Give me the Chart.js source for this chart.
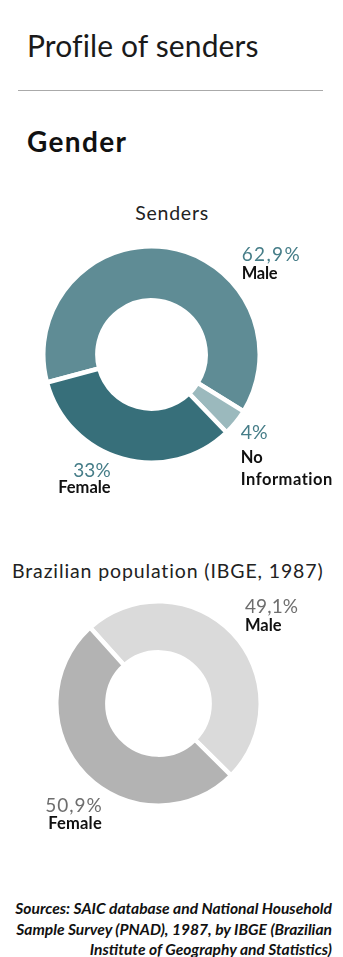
<!DOCTYPE html>
<html>
<head>
<meta charset="utf-8">
<script src="https://cdn.jsdelivr.net/npm/chart.js@4"></script>
<style>
  html, body { margin: 0; padding: 0; background: #fff; }
  body { width: 343px; height: 957px; position: relative; overflow: hidden; font-family: "Lato", "Open Sans", sans-serif; color: #111; }
  .t { position: absolute; white-space: nowrap; line-height: 1; }
  .box { position: absolute; }
  #rule { position: absolute; left: 18px; top: 90px; width: 305px; height: 1px; background: #aaa; }
</style>
</head>
<body>
<div id="rule"></div>
<div class="box" id="box1"><canvas id="senders"></canvas></div>
<div class="box" id="box2"><canvas id="population"></canvas></div>

<script>
// data
var sendersLabels = ["Male", "No Information", "Female"]
var sendersValues = [62.9, 4, 33]
var sendersColors = ["#5f8c95", "#9bb9bd", "#376f7a"]

var popLabels = ["Male", "Female"]
var popValues = [49.1, 50.9]
var popColors = ["#dadada", "#b3b3b3"]

var sourcesLines = [
  "Sources: SAIC database and National Household",
  "Sample Survey (PNAD), 1987, by IBGE (Brazilian",
  "Institute of Geography and Statistics)"
]

function pct(v) {
  return String(v).replace(".", ",") + "%"
}

// put a text with its baseline at y, stretched to width w
function place(text, x, base, fs, opts) {
  opts = opts || {}
  var d = document.createElement("div")
  d.className = "t"
  d.textContent = text
  d.style.fontSize = fs + "px"
  d.style.fontWeight = opts.weight || 400
  if (opts.italic) d.style.fontStyle = "italic"
  d.style.color = opts.color || "#111"
  d.style.top = (base - 0.887 * fs) + "px"
  document.body.appendChild(d)
  var w = d.getBoundingClientRect().width
  var n = text.length
  if (opts.w && n > 1) {
    var ls = (opts.w - w) / (n - 1)
    d.style.letterSpacing = ls + "px"
    w = w + (n - 1) * ls
  }
  if (opts.align == "right") d.style.left = (x - w) + "px"
  else if (opts.align == "center") d.style.left = (x - w / 2) + "px"
  else d.style.left = x + "px"
  return d
}

place("Profile of senders", 27, 56.7, 30, {weight: 400, color: "#1a1a1a", w: 231})
place("Gender", 27, 151.7, 28, {weight: 700, w: 99})
place("Senders", 171.7, 220.7, 19.5, {weight: 400, color: "#222", align: "center", w: 73})
place("Brazilian population (IBGE, 1987)", 167.5, 578.3, 19.5, {weight: 400, color: "#222", align: "center", w: 311})

var teal = "#467d88"
var grey = "#6e6e6e"

// senders labels
place(pct(sendersValues[0]), 241.7, 260.7, 19, {color: teal, w: 58})
place(sendersLabels[0], 241.7, 280, 16.5, {weight: 700, w: 36})
place(pct(sendersValues[1]), 240.7, 439, 19.5, {color: teal})
place("No", 240.7, 463.3, 16.5, {weight: 700})
place("Information", 240.7, 485.7, 16.5, {weight: 700, w: 92})
place(pct(sendersValues[2]), 110.7, 476.7, 19, {color: teal, align: "right", w: 37.5})
place(sendersLabels[2], 110.7, 494, 16.5, {weight: 700, align: "right", w: 52.5})

// population labels
place(pct(popValues[0]), 245, 612.7, 19, {color: grey, w: 53})
place(popLabels[0], 245, 631.7, 16.5, {weight: 700, w: 36.5})
place(pct(popValues[1]), 101.7, 811.7, 19, {color: grey, align: "right", w: 56.5})
place(popLabels[1], 101.7, 830, 16.5, {weight: 700, align: "right", w: 53.4})

var bases = [915, 935.5, 956]
for (var i = 0; i < sourcesLines.length; i++) {
  place(sourcesLines[i], 332, bases[i], 15.6, {weight: 700, italic: true, align: "right"})
}

// donuts
function setBox(id, cx, cy, size) {
  var b = document.getElementById(id)
  b.style.left = (cx - size / 2) + "px"
  b.style.top = (cy - size / 2) + "px"
  b.style.width = size + "px"
  b.style.height = size + "px"
}
setBox("box1", 151.5, 354.5, 221)
setBox("box2", 158.5, 703.5, 209)

function donut(ctx, labels, values, colors, rotation) {
  return new Chart(ctx, {
    type: "doughnut",
    data: {
      labels: labels,
      datasets: [{
        data: values,
        backgroundColor: colors,
        borderColor: "#ffffff",
        borderWidth: 4.5,
        hoverOffset: 0
      }]
    },
    options: {
      responsive: true,
      maintainAspectRatio: false,
      animation: false,
      events: [],
      cutout: "50%",
      rotation: rotation,
      layout: { padding: 0 },
      plugins: {
        legend: { display: false },
        tooltip: { enabled: false }
      }
    }
  })
}

var chart1 = donut(document.getElementById("senders"), sendersLabels, sendersValues, sendersColors, 255)
var chart2 = donut(document.getElementById("population"), popLabels, popValues, popColors, 318)
</script>
</body>
</html>
